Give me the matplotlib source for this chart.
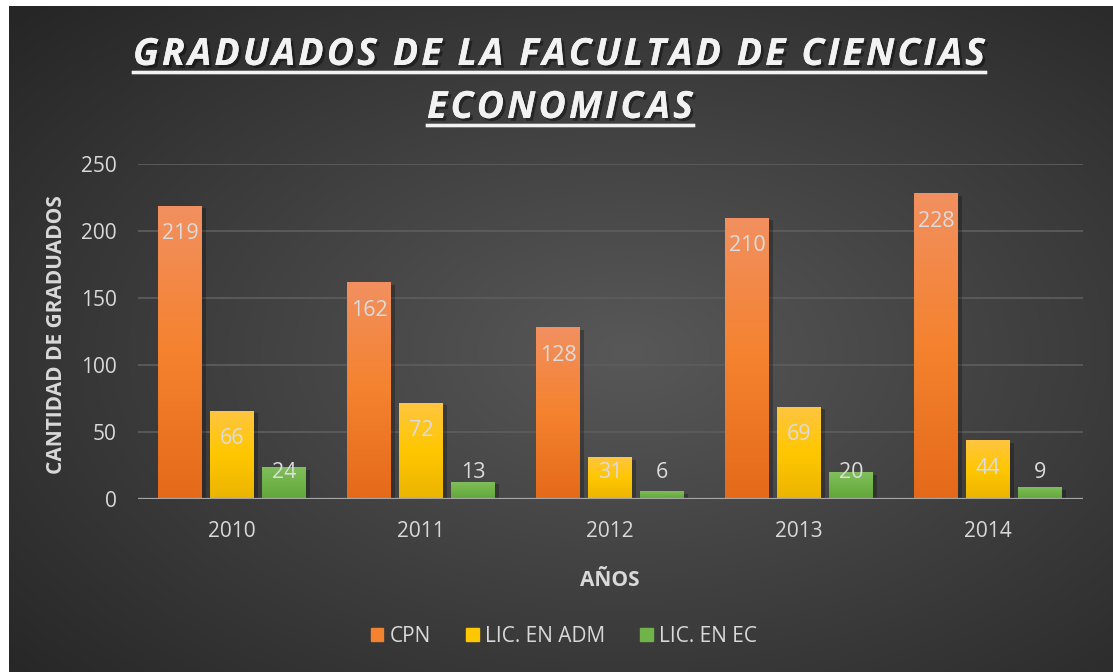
import numpy as np
import matplotlib
matplotlib.use("Agg")
import matplotlib.pyplot as plt
import matplotlib.patheffects as pe
from matplotlib.colors import LinearSegmentedColormap
from matplotlib.patches import Patch
from matplotlib.lines import Line2D

years = ["2010", "2011", "2012", "2013", "2014"]
cpn = [219, 162, 128, 210, 228]
adm = [66, 72, 31, 69, 44]
eco = [24, 13, 6, 20, 9]
names = ["CPN", "LIC. EN ADM", "LIC. EN EC"]

W, H = 1113, 672
plt.rcParams["font.family"] = ["Open Sans", "DejaVu Sans"]
fig = plt.figure(figsize=(W / 100, H / 100), dpi=100, facecolor="white")

# dark radial background
bg = fig.add_axes([9 / W, 0, 1 - 9 / W, 1 - 6 / H])
bg.set_axis_off()
yy, xx = np.mgrid[0:1:300j, 0:1:500j]
d = np.sqrt(((xx - 0.56) / 0.75) ** 2 + ((yy - 0.52) / 0.75) ** 2)
d = np.clip(d, 0, 1)
v = 0.15 + (0.345 - 0.15) * (1 - d) ** 1.0
bg.imshow(np.dstack([v, v, v]), extent=[0, 1, 0, 1], aspect="auto", interpolation="bicubic")
bg.set_xlim(0, 1)
bg.set_ylim(0, 1)

ax = fig.add_axes([137.5 / W, 1 - 499 / H, (1082.5 - 137.5) / W, (499 - 164) / H])
ax.patch.set_alpha(0)
for s in ax.spines.values():
    s.set_visible(False)

x = np.arange(len(years))
width = 0.228
offs = [-0.275, 0, 0.275]
grads = [
    ["#e46a1a", "#f5822e", "#f19060"],
    ["#ebb400", "#ffc700", "#ffc542"],
    ["#62a53a", "#70b348", "#82bf5f"],
]
grad = np.linspace(0, 1, 256).reshape(-1, 1)

for vals, off, cols in zip([cpn, adm, eco], offs, grads):
    cmap = LinearSegmentedColormap.from_list("g", cols)
    bars = ax.bar(x + off, vals, width, color=cols[1], zorder=2,
                  path_effects=[pe.withSimplePatchShadow(offset=(3, -2), shadow_rgbFace="black", alpha=0.25)])
    for b, val in zip(bars, vals):
        im = ax.imshow(grad, extent=[b.get_x(), b.get_x() + width, 0, val], cmap=cmap,
                       aspect="auto", origin="lower", zorder=3, interpolation="bicubic")
        im.set_clip_path(b)
        ax.text(b.get_x() + width / 2, max(val - 21, 19.5), str(val), ha="center", va="center",
                fontsize=15.5, color="#dcdcdc", zorder=5)

ax.set_xlim(-0.5, 4.5)
ax.set_ylim(0, 250)
ax.set_yticks(range(0, 251, 50))
ax.set_xticks(x)
ax.set_xticklabels(years)
ax.grid(axis="y", color="#5c5c5c", lw=1.3, zorder=0)
ax.set_axisbelow(True)
ax.axhline(0, color="#a6a6a6", lw=1.6, zorder=4)
ax.tick_params(length=0, labelsize=15, labelcolor="#d9d9d9")
ax.tick_params(axis="y", pad=15)
ax.tick_params(axis="x", pad=16)

fig.text(57 / W, 1 - 335 / H, "CANTIDAD DE GRADUADOS", rotation=90, ha="center", va="center",
         fontsize=15, fontweight="bold", color="#d9d9d9")
fig.text(610 / W, 1 - 581 / H, "AÑOS", ha="center", va="center",
         fontsize=15, fontweight="bold", color="#d9d9d9")

handles = [Patch(color=c[1]) for c in grads]
fig.legend(handles, names, loc="center", bbox_to_anchor=(564 / W, 1 - 636 / H), ncol=3, frameon=False,
           fontsize=15, labelcolor="#d9d9d9", handlelength=0.6, handleheight=0.6,
           handletextpad=0.3, columnspacing=1.7)

# title with letter spacing, underline and shadow
renderer = fig.canvas.get_renderer()
tprops = dict(fontsize=27, fontweight="bold", fontstyle="italic", color="#f2f2f2")
shadow = [pe.withSimplePatchShadow(offset=(2, -2), shadow_rgbFace="black", alpha=0.4), pe.Normal()]


def text_w(s):
    t = fig.text(0, 0, s, **tprops)
    w = t.get_window_extent(renderer).width
    t.remove()
    return w


def spaced_title(s, x0, x1, base_y, under_y):
    hh = text_w("HH")
    ws = [text_w("H" + c + "H") - hh for c in s]
    extra = ((x1 - x0) - sum(ws)) / (len(s) - 1)
    cx = x0
    for c, w in zip(s, ws):
        if c != " ":
            fig.text(cx / W, 1 - base_y / H, c, ha="left", va="baseline", path_effects=shadow, **tprops)
        cx += w + extra
    fig.add_artist(Line2D([x0 / W, x1 / W], [1 - under_y / H] * 2, transform=fig.transFigure,
                          color="#f2f2f2", lw=2.4, path_effects=shadow))


spaced_title("GRADUADOS DE LA FACULTAD DE CIENCIAS", 133, 985, 65, 71.5)
spaced_title("ECONOMICAS", 427, 693, 118, 124.5)

fig.savefig("out.png", dpi=100, facecolor="white")
